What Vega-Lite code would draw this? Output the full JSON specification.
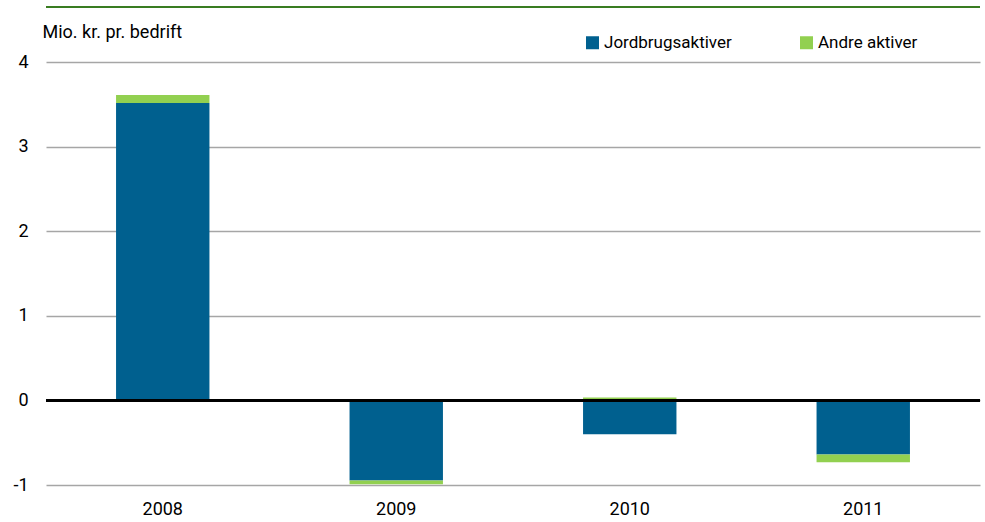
{
  "$schema": "https://vega.github.io/schema/vega-lite/v6.json",
  "width": 934,
  "height": 423,
  "autosize": "none",
  "padding": {"left": 46, "top": 62, "right": 5, "bottom": 37},
  "background": "white",
  "config": {
    "view": {"stroke": null},
    "font": "Roboto",
    "axis": {"labelFont": "Roboto", "titleFont": "Roboto"},
    "legend": {"labelFont": "Roboto"}
  },
  "data": {
    "values": [
      {"year": "2008", "type": "Jordbrugsaktiver", "ord": 1, "value": 3.515},
      {"year": "2008", "type": "Andre aktiver", "ord": 2, "value": 0.095},
      {"year": "2009", "type": "Jordbrugsaktiver", "ord": 1, "value": -0.947},
      {"year": "2009", "type": "Andre aktiver", "ord": 2, "value": -0.045},
      {"year": "2010", "type": "Jordbrugsaktiver", "ord": 1, "value": -0.40},
      {"year": "2010", "type": "Andre aktiver", "ord": 2, "value": 0.035},
      {"year": "2011", "type": "Jordbrugsaktiver", "ord": 1, "value": -0.64},
      {"year": "2011", "type": "Andre aktiver", "ord": 2, "value": -0.09}
    ]
  },
  "layer": [
    {
      "mark": {"type": "bar"},
      "encoding": {
        "x": {
          "field": "year", "type": "nominal",
          "scale": {"paddingInner": 0.6, "paddingOuter": 0.3},
          "axis": {"title": null, "labelAngle": 0, "domain": false, "ticks": false, "labelFontSize": 18, "labelColor": "#000000", "labelPadding": 15}
        },
        "y": {
          "field": "value", "type": "quantitative", "stack": "zero",
          "scale": {"domain": [-1, 4], "nice": false},
          "axis": {
            "title": "Mio. kr. pr. bedrift", "titleAngle": 0, "titleAlign": "left", "titleBaseline": "alphabetic",
            "titleX": -4, "titleY": -25, "titleFontSize": 18, "titleFontWeight": "normal", "titleColor": "#000000",
            "values": [-1, 0, 1, 2, 3, 4],
            "labelExpr": "datum.value < 0 ? '-' + abs(datum.value) : '' + datum.value",
            "domain": false, "ticks": false, "labelFontSize": 18, "labelColor": "#000000", "labelPadding": 18,
            "gridColor": "#a6a6a6", "gridWidth": 1.5
          }
        },
        "color": {
          "field": "type", "type": "nominal",
          "scale": {"domain": ["Jordbrugsaktiver", "Andre aktiver"], "range": ["#00608f", "#92d050"]},
          "legend": {
            "title": null, "orient": "none", "direction": "horizontal", "legendX": 538, "legendY": -28,
            "symbolType": "square", "symbolSize": 169, "symbolStrokeWidth": 0, "labelFontSize": 17, "labelColor": "#000000",
            "labelOffset": 3, "columnPadding": 66
          }
        },
        "order": {"field": "ord", "type": "quantitative"}
      }
    },
    {
      "mark": {"type": "rule", "color": "#3a7d22", "strokeWidth": 1.5, "clip": false},
      "encoding": {"y": {"datum": 4.65}}
    },
    {
      "mark": {"type": "rule", "color": "#000000", "strokeWidth": 2.5},
      "encoding": {"y": {"datum": 0}}
    }
  ]
}
